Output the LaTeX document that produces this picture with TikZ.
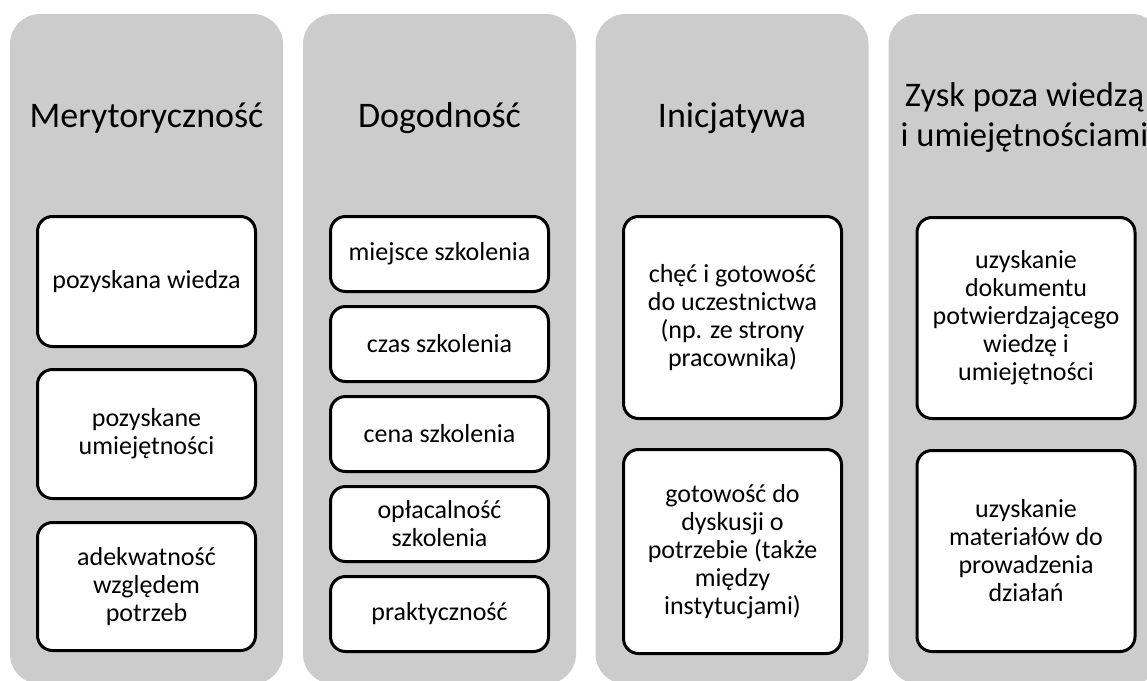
\documentclass[tikz,border=0pt]{standalone}
\usepackage{fontspec}
\setmainfont{Carlito}
\definecolor{colgray}{RGB}{204,204,204}
\tikzset{
  col/.style={fill=colgray, draw=none, rounded corners=30pt, minimum width=273pt, minimum height=670pt, inner sep=0pt},
  ttl/.style={align=center, font=\fontsize{36}{40}\selectfont, inner sep=0pt},
  item/.style={draw=black, fill=white, line width=3pt, rounded corners=15pt, align=center, minimum width=218pt, inner sep=0pt, font=\fontsize{26}{28}\selectfont}
}
\begin{document}
\begin{tikzpicture}[x=1pt,y=-1pt]
\useasboundingbox (0,0) rectangle (1147,680);
\clip (0,0) rectangle (1147,680);
% columns
\node[col] (c1) at (146.5,349) {};
\node[col] (c2) at (439.5,349) {};
\node[col] (c3) at (732,349) {};
\node[col] (c4) at (1025,349) {};
% titles
\node[ttl] (t1) at (146.5,118) {Merytoryczność};
\node[ttl] (t2) at (439.5,118) {Dogodność};
\node[ttl] (t3) at (732,118) {Inicjatywa};
\node[ttl, font=\fontsize{34.5}{40}\selectfont] (t4) at (1024.5,117) {Zysk poza wiedzą\\i umiejętnościami};
% column 1
\node[item, minimum height=130pt] (a1) at (146.5,281.5) {pozyskana wiedza};
\node[item, minimum height=129pt] (a2) at (146.5,434) {pozyskane\\umiejętności};
\node[item, minimum height=128pt] (a3) at (146.5,586.5) {adekwatność\\względem\\potrzeb};
% column 2
\node[item, minimum height=75pt] (b1) at (439.5,254) {miejsce szkolenia};
\node[item, minimum height=75pt] (b2) at (439.5,344) {czas szkolenia};
\node[item, minimum height=75pt] (b3) at (439.5,434) {cena szkolenia};
\node[item, minimum height=75pt] (b4) at (439.5,524) {opłacalność\\szkolenia};
\node[item, minimum height=75pt] (b5) at (439.5,614) {praktyczność};
% column 3
\node[item, minimum height=202pt] (d1) at (732.5,317.5) {chęć i gotowość\\do uczestnictwa\\(np. ze strony\\pracownika)};
\node[item, minimum height=204pt] (d2) at (732.5,551.5) {gotowość do\\dyskusji o\\potrzebie (także\\między\\instytucjami)};
% column 4
\node[item, minimum height=201pt] (e1) at (1026,318) {uzyskanie\\dokumentu\\potwierdzającego\\wiedzę i\\umiejętności};
\node[item, minimum height=201pt] (e2) at (1026,551) {uzyskanie\\materiałów do\\prowadzenia\\działań};
\end{tikzpicture}
\end{document}
